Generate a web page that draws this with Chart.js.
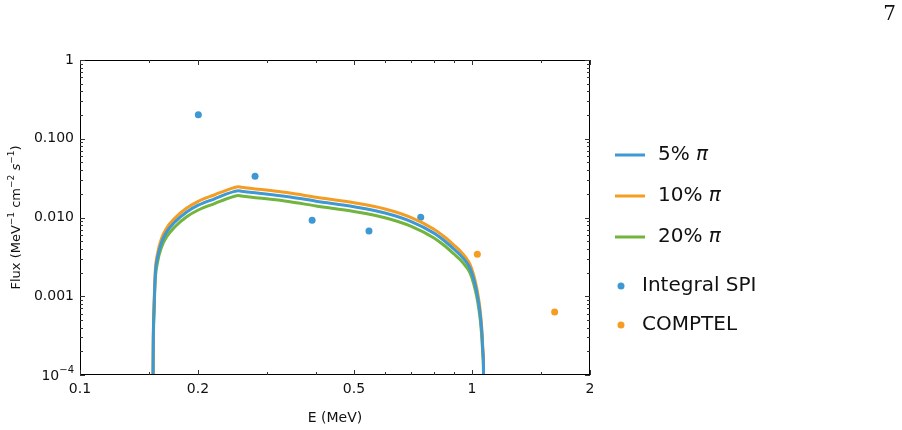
<!DOCTYPE html>
<html>
<head>
<meta charset="utf-8">
<script src="https://cdn.jsdelivr.net/npm/chart.js@4.4.1/dist/chart.umd.min.js"></script>
<style>
  html, body { margin: 0; padding: 0; background: #fff; }
  #wrap { position: relative; width: 902px; height: 430px; }
</style>
</head>
<body>
<div id="wrap"><canvas id="fluxChart" width="902" height="430"></canvas></div>
<script>
// Model curves
const energy = [0.1532, 0.1538, 0.1545, 0.1556, 0.1575, 0.1616, 0.1664, 0.1747, 0.1872, 0.2003, 0.2211, 0.2358, 0.248, 0.253,
                0.258, 0.3434, 0.4, 0.5, 0.6, 0.7, 0.8, 0.85, 0.9, 0.9319, 0.9654, 0.9883, 1.0089, 1.0283, 1.042,
                1.0512, 1.0605, 1.0667, 1.0699, 1.0705];
const flux5 = [1.15e-5, 2.63e-4, 6.98e-4, 1.85e-3, 3.01e-3, 4.90e-3, 6.57e-3, 8.79e-3, 0.01176, 0.01432, 0.01741, 0.01976, 0.02144, 0.02188,
               0.0216, 0.01825, 0.0161, 0.0137, 0.01143, 0.00889, 0.00633, 0.00507, 0.00396, 0.00337, 0.002744, 0.002269, 0.001694, 1.135e-3, 7.69e-4,
               5.42e-4, 3.20e-4, 1.89e-4, 1.15e-4, 1.15e-5];
const flux10 = [1.29e-5, 2.95e-4, 7.83e-4, 2.08e-3, 3.38e-3, 5.50e-3, 7.37e-3, 9.86e-3, 0.0132, 0.01606, 0.01953, 0.02216, 0.02405, 0.02455,
                0.02423, 0.02047, 0.01806, 0.01536, 0.01282, 0.00997, 0.0071, 0.00569, 0.00444, 0.00378, 0.003078, 0.002545, 0.0019, 1.273e-3, 8.63e-4,
                6.08e-4, 3.59e-4, 2.12e-4, 1.29e-4, 1.29e-5];
const flux20 = [1e-5, 2.29e-4, 6.07e-4, 1.61e-3, 2.62e-3, 4.26e-3, 5.71e-3, 7.64e-3, 0.01023, 0.01245, 0.01514, 0.01718, 0.01864, 0.01903,
                0.01878, 0.01587, 0.0140, 0.01191, 0.00994, 0.00773, 0.0055, 0.00441, 0.00344, 0.00293, 0.002386, 0.001973, 0.001473, 9.87e-4, 6.69e-4,
                4.71e-4, 2.78e-4, 1.64e-4, 1e-4, 1e-5];

// Measurements
const spiEnergy = [0.2004, 0.2796, 0.391, 0.546, 0.740];
const spiFlux = [0.202, 0.0334, 0.00921, 0.00674, 0.01006];
const comptelEnergy = [1.032, 1.625];
const comptelFlux = [0.00341, 0.00063];

// Ticks
const xMajor = [0.1, 0.2, 0.5, 1, 2];
const xMinor = [0.15, 0.3, 0.4, 0.6, 0.7, 0.8, 0.9, 1.5];
const yMajor = [1e-4, 1e-3, 1e-2, 1e-1, 1];
const yLabels = ['', '0.001', '0.010', '0.100', '1'];
const yMinor = [];
for (let d = -4; d < 0; d++) {
    for (let m = 2; m <= 9; m++) yMinor.push(m * Math.pow(10, d));
}

const BLUE = '#3d98d3', ORANGE = '#f59d22', GREEN = '#72b43c';
const FONT = 'DejaVu Sans';

const legendLines = [
    { num: '5% ', color: BLUE },
    { num: '10% ', color: ORANGE },
    { num: '20% ', color: GREEN }
];

const pts = (xs, ys) => xs.map((x, i) => ({ x: x, y: ys[i] }));

// pieces of text with superscripts: [text, size, raise, italic]
function drawPieces(ctx, pieces, x, y, align) {
    let total = 0;
    pieces.forEach(p => {
        ctx.font = (p[3] ? 'italic ' : '') + p[1] + 'px ' + FONT;
        total += ctx.measureText(p[0]).width;
    });
    let cx = align === 'right' ? x - total : align === 'center' ? x - total / 2 : x;
    ctx.textAlign = 'left';
    pieces.forEach(p => {
        ctx.font = (p[3] ? 'italic ' : '') + p[1] + 'px ' + FONT;
        ctx.fillText(p[0], cx, y + p[2]);
        cx += ctx.measureText(p[0]).width;
    });
}

// frame, inward ticks, legend and page number
const decorations = {
    id: 'decorations',
    afterDraw(chart) {
        const { ctx, chartArea: a, scales: { x, y } } = chart;
        ctx.save();
        ctx.strokeStyle = '#000';
        ctx.lineWidth = 1;
        ctx.strokeRect(a.left + 0.5, a.top + 0.5, a.right - a.left - 1, a.bottom - a.top - 1);

        ctx.strokeStyle = '#333';
        const xTick = (v, len) => {
            const px = Math.round(x.getPixelForValue(v)) + 0.5;
            ctx.beginPath();
            ctx.moveTo(px, a.bottom); ctx.lineTo(px, a.bottom - len);
            ctx.moveTo(px, a.top); ctx.lineTo(px, a.top + len);
            ctx.stroke();
        };
        const yTick = (v, len) => {
            const py = Math.round(y.getPixelForValue(v)) + 0.5;
            ctx.beginPath();
            ctx.moveTo(a.left, py); ctx.lineTo(a.left + len, py);
            ctx.moveTo(a.right, py); ctx.lineTo(a.right - len, py);
            ctx.stroke();
        };
        xMajor.forEach(v => xTick(v, 5));
        xMinor.forEach(v => xTick(v, 3));
        yMajor.forEach(v => yTick(v, 5));
        yMinor.forEach(v => yTick(v, 3));

        ctx.fillStyle = '#111';
        ctx.textBaseline = 'middle';
        // 10^-4 tick label
        drawPieces(ctx, [['10', 14, 0], ['\u22124', 10, -6]], a.left - 6, y.getPixelForValue(1e-4) + 1, 'right');

        // y axis title
        ctx.save();
        ctx.translate(17, (a.top + a.bottom) / 2);
        ctx.rotate(-Math.PI / 2);
        drawPieces(ctx, [['Flux (MeV', 13, 0], ['\u22121', 9, -5], [' cm', 13, 0], ['\u22122', 9, -5],
                         [' ', 13, 0], ['s', 13, 0, true], ['\u22121', 9, -5], [')', 13, 0]], 0, 0, 'center');
        ctx.restore();

        // legend
        legendLines.forEach((l, i) => {
            const ly = 155 + i * 41;
            ctx.strokeStyle = l.color;
            ctx.lineWidth = 3;
            ctx.beginPath();
            ctx.moveTo(615, ly); ctx.lineTo(645, ly);
            ctx.stroke();
            ctx.fillStyle = '#111';
            drawPieces(ctx, [[l.num, 20, 0], ['\u03C0', 20, 0, true]], 658, ly, 'left');
        });
        ctx.font = '20px ' + FONT;
        [['Integral SPI', BLUE, 286], ['COMPTEL', ORANGE, 325]].forEach(([t, c, ly]) => {
            ctx.fillStyle = c;
            ctx.beginPath();
            ctx.arc(621, ly, 3.5, 0, Math.PI * 2);
            ctx.fill();
            ctx.fillStyle = '#111';
            ctx.fillText(t, 642, ly);
        });

        // page number
        ctx.font = '20px "DejaVu Serif"';
        ctx.textAlign = 'right';
        ctx.fillText('7', 896, 15);
        ctx.restore();
    }
};

const ctx = document.getElementById('fluxChart').getContext('2d');
const lineStyle = { borderWidth: 3, pointRadius: 0, clip: 0, cubicInterpolationMode: 'monotone' };
const fluxChart = new Chart(ctx, {
    type: 'line',
    data: {
        datasets: [
            { label: '5% \u03C0', data: pts(energy, flux5), borderColor: BLUE, ...lineStyle },
            { label: '10% \u03C0', data: pts(energy, flux10), borderColor: ORANGE, ...lineStyle },
            { label: '20% \u03C0', data: pts(energy, flux20), borderColor: GREEN, ...lineStyle },
            { type: 'scatter', label: 'Integral SPI', data: pts(spiEnergy, spiFlux), backgroundColor: BLUE,
              borderWidth: 0, pointRadius: 3.5 },
            { type: 'scatter', label: 'COMPTEL', data: pts(comptelEnergy, comptelFlux), backgroundColor: ORANGE,
              borderWidth: 0, pointRadius: 3.5 }
        ]
    },
    options: {
        responsive: false,
        animation: false,
        layout: { padding: { top: 60, right: 312, left: 0, bottom: 0 } },
        plugins: {
            legend: { display: false },
            tooltip: { enabled: false }
        },
        scales: {
            x: {
                type: 'logarithmic',
                min: 0.1,
                max: 2,
                afterBuildTicks: scale => { scale.ticks = xMajor.map(v => ({ value: v })); },
                afterFit: scale => { scale.height = 55; },
                grid: { display: false, drawTicks: false },
                border: { display: false },
                ticks: {
                    padding: 6,
                    color: '#111',
                    maxRotation: 0,
                    font: { family: FONT, size: 14 },
                    callback: v => String(v)
                },
                title: {
                    display: true,
                    text: 'E (MeV)',
                    color: '#111',
                    font: { family: FONT, size: 14 },
                    padding: { top: 0, bottom: 3 }
                }
            },
            y: {
                type: 'logarithmic',
                min: 1e-4,
                max: 1,
                afterBuildTicks: scale => { scale.ticks = yMajor.map(v => ({ value: v })); },
                afterFit: scale => { scale.width = 80; },
                grid: { display: false, drawTicks: false },
                border: { display: false },
                ticks: {
                    padding: 6,
                    color: '#111',
                    font: { family: FONT, size: 14 },
                    callback: v => yLabels[yMajor.findIndex(m => Math.abs(m - v) / m < 1e-6)]
                },
                title: { display: false }
            }
        }
    },
    plugins: [decorations]
});
</script>
</body>
</html>
